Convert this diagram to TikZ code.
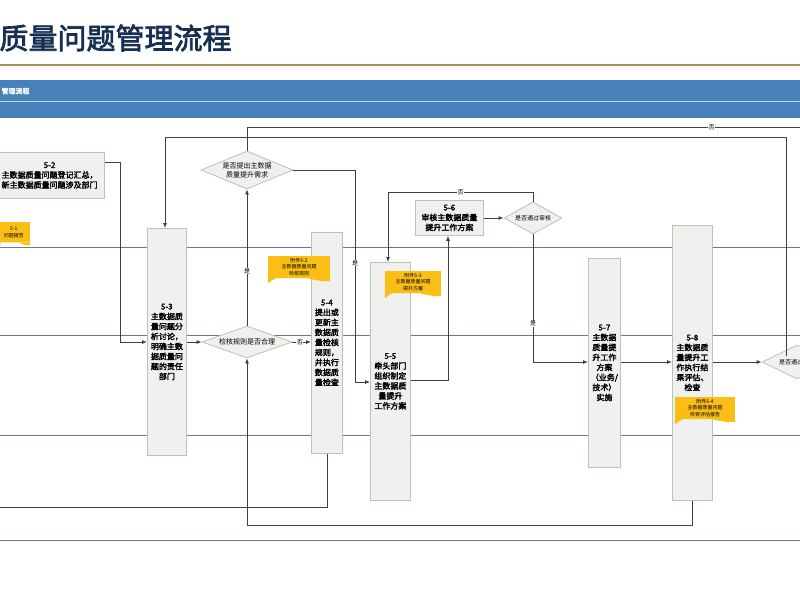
\documentclass[tikz,border=0pt]{standalone}
\usepackage{fontspec}
\setmainfont[AutoFakeBold=2.5]{Noto Sans CJK SC}
\usetikzlibrary{shapes.geometric,calc,arrows.meta}
\definecolor{navy}{RGB}{22,48,82}
\definecolor{band}{RGB}{70,130,185}
\definecolor{lane}{RGB}{95,125,150}
\definecolor{boxfill}{RGB}{240,240,240}
\definecolor{boxline}{RGB}{180,200,170}
\definecolor{docyellow}{RGB}{250,190,20}
\definecolor{gold}{RGB}{170,140,90}
\tikzset{
  proc/.style={draw=boxline, fill=boxfill, line width=0.8pt, font=\fontsize{8}{10}\selectfont\bfseries, align=center, inner sep=1pt},
  check/.style={diamond, aspect=2.6, draw=boxline, fill=boxfill, line width=0.8pt, font=\fontsize{7}{9}\selectfont, align=center, inner sep=0pt},
  doc/.style={fill=docyellow, font=\fontsize{5}{6.5}\selectfont, align=center, inner sep=1pt},
  flow/.style={draw=black!75, line width=0.8pt},
  arr/.style={flow, -{Latex[length=5pt,width=4pt]}},
  tag/.style={fill=white, font=\fontsize{6}{6}\selectfont, inner sep=0.5pt}
}
\newcommand\wave[1]{\fill[docyellow] (#1.south west) -- ([yshift=-5pt]#1.south west) .. controls ($(#1.south west)!0.35!(#1.south east)+(0,-12)$) and ($(#1.south west)!0.6!(#1.south east)+(0,4)$) .. ([yshift=-3pt]#1.south east) -- (#1.south east) -- cycle;}
\begin{document}
\begin{tikzpicture}[x=1pt,y=-1pt]
  \useasboundingbox (0,0) rectangle (800,600);

  % title and header band
  \node[anchor=west, font=\fontsize{29}{29}\selectfont\bfseries, text=navy] (title) at (-4,38) {质量问题管理流程};
  \fill[gold] (0,64) rectangle (800,66);
  \fill[band] (0,80) rectangle (800,118);
  \draw[white!70!band] (0,101) -- (800,101);
  \node[anchor=west, text=white, font=\fontsize{7}{7}\selectfont\bfseries] (band) at (-2,91) {管理流程};

  % lanes
  \foreach \y in {247,335,435,540}
    \draw[lane, line width=1pt] (0,\y) -- (800,\y);

  % steps
  \node[proc, minimum width=110pt, minimum height=46pt, anchor=north east] (s2) at (105,152) {5-2\\主数据质量问题登记汇总，\\新主数据质量问题涉及部门};
  \node[doc, anchor=north east, minimum width=32pt, minimum height=20pt] (a1) at (30,222) {5-1\\问题报告};
  \wave{a1}
  \node[proc, minimum width=39pt, minimum height=227pt, anchor=north west] (s3) at (147,228) {5-3\\主数据质\\量问题分\\析讨论，\\明确主数\\据质量问\\题的责任\\部门};
  \node[proc, minimum width=31pt, minimum height=221pt, anchor=north west] (s4) at (311,232) {5-4\\提出或\\更新主\\数据质\\量检核\\规则，\\并执行\\数据质\\量检查};
  \node[proc, minimum width=40pt, minimum height=238pt, anchor=north west] (s5) at (370,262) {5-5\\牵头部门\\组织制定\\主数据质\\量提升\\工作方案};
  \node[proc, minimum width=68pt, minimum height=35pt, anchor=north west] (s6) at (415,200) {5-6\\审核主数据质量\\提升工作方案};
  \node[proc, minimum width=32pt, minimum height=209pt, anchor=north west] (s7) at (588,258) {5-7\\主数据\\质量提\\升工作\\方案\\（业务/\\技术）\\实施};
  \node[proc, minimum width=40pt, minimum height=275pt, anchor=north west] (s8) at (672,225) {5-8\\主数据质\\量提升工\\作执行结\\果评估、\\检查};

  % attachments
  \node[doc, minimum width=62pt, minimum height=22pt] (a2) at (299,267) {附件5-2\\主数据质量问题\\检核规则};
  \wave{a2}
  \node[doc, minimum width=56pt, minimum height=22pt] (a3) at (413,282) {附件5-3\\主数据质量问题\\提升方案};
  \wave{a3}
  \node[doc, minimum width=60pt, minimum height=22pt] (a4) at (705,408) {附件5-4\\主数据质量问题\\检查评估报告};
  \wave{a4}

  % decisions
  \node[check, minimum width=92pt, minimum height=38pt] (d1) at (247,170) {是否提出主数据\\质量提升需求};
  \node[check, minimum width=90pt, minimum height=32pt] (d2) at (247,342) {检核规则是否合理};
  \node[check, minimum width=58pt, minimum height=32pt, font=\fontsize{6}{7}\selectfont] (d3) at (533,218) {是否通过审核};
  \node[check, minimum width=70pt, minimum height=34pt, font=\fontsize{6}{7}\selectfont] (d4) at (797,362) {是否通过检查};

  % connectors
  \coordinate (c1) at (120,162);
  \draw[arr] (s2.east |- c1) -- (c1) |- (s3.west |- d2);
  \draw[arr] (s3.east |- d2) -- (d2.west);
  \draw[arr] (d2.east) -- node[tag, pos=0.4] {否} (s4.west |- d2);
  \draw[arr] (d2.north) -- node[tag, pos=0.4] {是} (d1.south);
  \draw[flow] (d1.north) |- node[tag, pos=0.92] {否} (800,127);
  \draw[arr] (d1.east) -| node[tag, pos=0.72] {是} (355,382) -- (s5.west |- 0,382);
  \draw[arr] (s5.east |- 0,380) -| (s6.south -| 448,0);
  \draw[arr] (s6.east |- d3) -- (d3.west);
  \draw[arr] (d3.north) |- node[tag, pos=0.75] {否} (388,192) -- (s5.north -| 388,0);
  \draw[arr] (d3.south) -- node[tag, pos=0.7] {是} (533,362) -- (s7.west |- 0,362);
  \draw[arr] (s7.east |- 0,362) -- (s8.west |- 0,362);
  \draw[arr] (s8.east |- d4) -- (d4.west);
  \draw[arr] (786,356) -- (786,137) -| (s3.north -| 165,0);
  \draw[flow] (s4.south) |- (0,507);
  \draw[arr] (s8.south) |- (247,525) -- (d2.south);
\end{tikzpicture}
\end{document}
